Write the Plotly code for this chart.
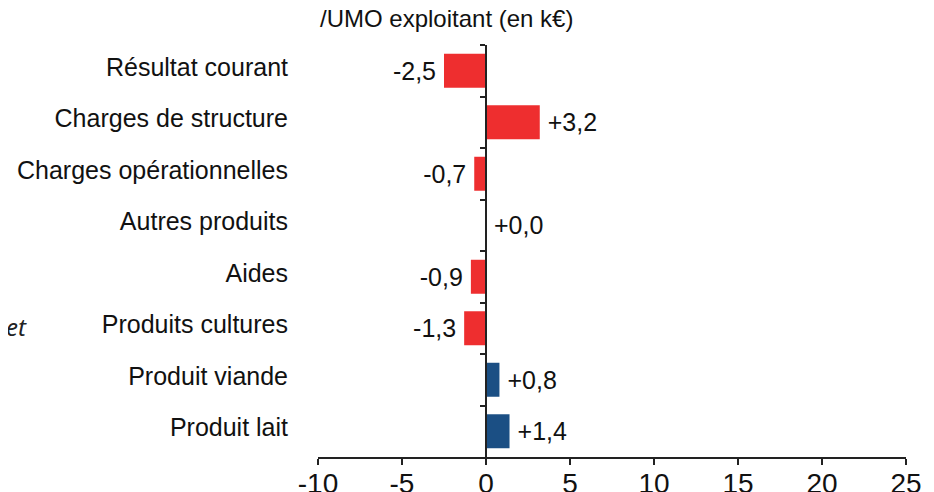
import plotly.graph_objects as go

# ==========================================
# DATA
# ==========================================
categories = [
    "Résultat courant",
    "Charges de structure",
    "Charges opérationnelles",
    "Autres produits",
    "Aides",
    "Produits cultures",
    "Produit viande",
    "Produit lait",
]
values = [-2.5, 3.2, -0.7, 0.0, -0.9, -1.3, 0.8, 1.4]
x_ticks = [-10, -5, 0, 5, 10, 15, 20, 25]
unit_label = "/UMO exploitant (en k€)"

# ==========================================
# STYLE
# ==========================================
RED = "#EE2E2F"
BLUE = "#1B4F84"
AXIS = "#222222"
FONT = "Liberation Sans"

bar_colors = [BLUE if c.startswith("Produit ") else RED for c in categories]
# value labels with a small gap from the bar end
labels = []
for v in values:
    s = f"{v:+.1f}".replace(".", ",")
    labels.append("\u2009" + s if v >= 0 else s + "\u2009")
pos = list(range(len(categories)))
bounds = [p - 0.5 for p in pos]

fig = go.Figure()

fig.add_trace(
    go.Bar(
        x=values,
        y=pos,
        orientation="h",
        width=0.66,
        marker=dict(color=bar_colors, line=dict(width=0)),
        text=labels,
        textposition="outside",
        constraintext="none",
        cliponaxis=False,
        textfont=dict(family=FONT, size=25, color="#111111"),
        showlegend=False,
    )
)

# dummy trace so the zero axis (y2) is drawn
fig.add_trace(go.Scatter(x=[None], y=[None], yaxis="y2", showlegend=False, hoverinfo="skip"))

# page body has an 8px margin, so the figure is shifted by 8px
fig.update_layout(
    template="none",
    width=934,
    height=492,
    margin=dict(l=310, r=36, t=37, b=43),
    paper_bgcolor="white",
    plot_bgcolor="white",
    font=dict(family=FONT, size=25, color="#111111"),
    xaxis=dict(
        range=[-10, 25],
        tickvals=x_ticks,
        ticktext=[str(t) for t in x_ticks],
        showgrid=False,
        zeroline=False,
        showline=True,
        linecolor=AXIS,
        linewidth=2,
        ticks="outside",
        ticklen=6,
        tickwidth=2,
        tickcolor=AXIS,
        tickfont=dict(size=28),
        ticklabelstandoff=-6,
        automargin=False,
        fixedrange=True,
    ),
    yaxis=dict(
        range=[7.5, -0.5],
        tickvals=pos,
        ticktext=categories,
        showgrid=False,
        zeroline=False,
        showline=False,
        ticks="",
        ticklabelstandoff=29,
        ticklabelshift=4,
        tickfont=dict(size=25),
        automargin=False,
    ),
    yaxis2=dict(
        overlaying="y",
        anchor="free",
        position=10 / 35,
        side="left",
        range=[7.5, -0.5],
        tickvals=bounds,
        showticklabels=False,
        showgrid=False,
        zeroline=False,
        showline=True,
        linecolor=AXIS,
        linewidth=2,
        ticks="outside",
        ticklen=5,
        tickwidth=2,
        tickcolor=AXIS,
        automargin=False,
    ),
    annotations=[
        dict(
            text=unit_label,
            xref="paper", yref="paper",
            x=0, y=1,
            xanchor="left", yanchor="bottom",
            yshift=11,
            showarrow=False,
            font=dict(size=24),
        ),
        dict(
            text="<i>et</i>",
            xref="paper", yref="paper",
            x=-314 / 588, y=130 / 412,
            xanchor="left", yanchor="middle",
            showarrow=False,
            font=dict(family="Noto Sans", size=24, color="#222222"),
        ),
    ],
)

fig.write_html("out.html")
